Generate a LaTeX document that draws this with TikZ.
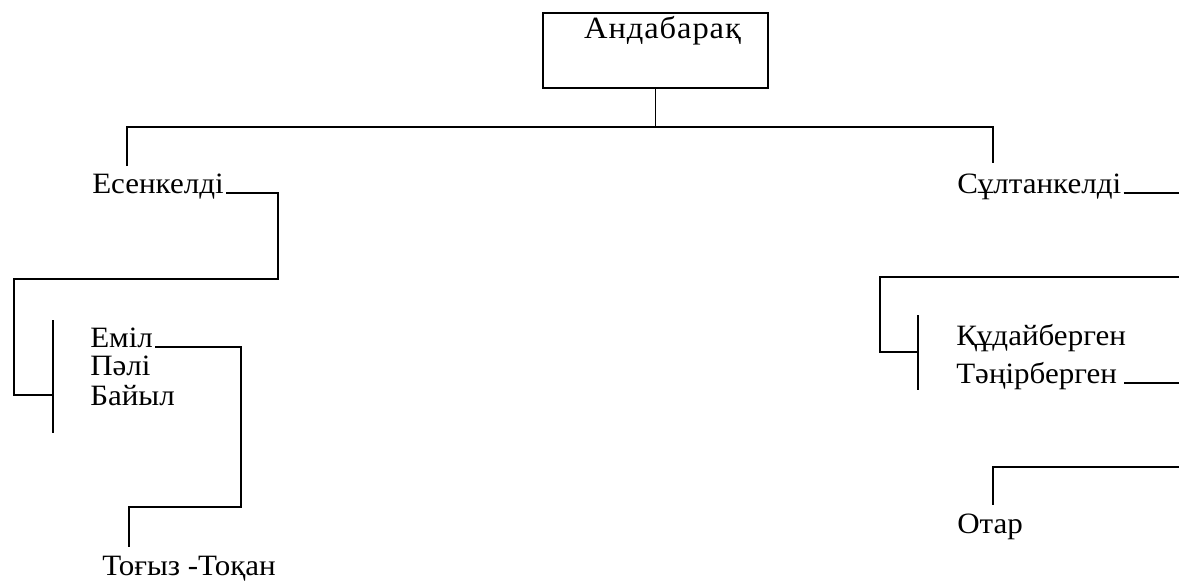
\documentclass[tikz,border=0pt]{standalone}
\usepackage{fontspec}
\setmainfont[FakeStretch=1.05]{Liberation Serif}
\usetikzlibrary{positioning,calc}

\tikzset{
  kin/.style={anchor=base west, inner sep=0pt, font=\fontsize{21}{25}\selectfont},
  rootbox/.style={draw, anchor=north west, minimum width=5.625cm, minimum height=1.875cm, inner sep=0pt, outer sep=0pt},
  tree/.style={line width=1.3pt}
}

\begin{document}
\begin{tikzpicture}[x=0.025cm, y=-0.025cm]
        \useasboundingbox (0,0) rectangle (1179,580);

        % Root
        \node[rootbox, line width=1.3pt] (root) at (543,13) {};
        \node[kin, anchor=base, font=\fontsize{22}{26}\selectfont] (roottext) at ($(root.north)+(7,25)$) {\addfontfeatures{LetterSpace=3}Андабарақ};

        % Names
        \node[kin] (esen) at (92,193) {Есенкелді};
        \node[kin] (sult) at (957,193) {Сұлтанкелді};
        \node[kin] (emil) at (90,347) {Еміл};
        \node[kin] (pali) at (90,375) {Пәлі};
        \node[kin] (bayl) at (90,405) {Байыл};
        \node[kin] (togz) at (102,575) {Тоғыз -Тоқан};
        \node[kin] (kuda) at (956,345) {Құдайберген};
        \node[kin] (tanr) at (956,383) {Тәңірберген};
        \node[kin] (otar) at (957,533) {Отар};

        % Coordinates
        \coordinate (mid) at (655.5,127);
        \coordinate (lT) at (127,166);
        \coordinate (rT) at (993,163);
        \coordinate (rEdge) at (1179,0);
        \coordinate (eA) at (278,279);
        \coordinate (eB) at (14,395);
        \coordinate (bar1T) at (53,320);
        \coordinate (bar1B) at (53,433);
        \coordinate (emA) at (241,507);
        \coordinate (togT) at (129,547);
        \coordinate (sA) at (880,277);
        \coordinate (sB) at (918,352);
        \coordinate (bar2T) at (918,315);
        \coordinate (bar2B) at (918,390);
        \coordinate (oA) at (993,467);
        \coordinate (otarT) at (993,505);

        % Top branch
        \draw[tree] (root.south) -- (root.south |- mid);
        \draw[tree] (lT) |- (mid) -| (rT);

        % Left line
        \draw[tree] ([xshift=1.5pt]esen.base east) -| (eA) -| (eB) -- (eB -| bar1T);
        \draw[tree] (bar1T) -- (bar1B);
        \draw[tree] ([xshift=1.5pt]emil.base east) -| (emA) -| (togT);

        % Right line
        \draw[tree] ([xshift=1.5pt]sult.base east) -- (sult.base -| rEdge);
        \draw[tree] (sA -| rEdge) -- (sA) |- (sB);
        \draw[tree] (bar2T) -- (bar2B);
        \draw[tree] ([xshift=5pt]tanr.base east) -- (tanr.base -| rEdge);
        \draw[tree] (oA -| rEdge) -- (oA) -- (otarT);
    \end{tikzpicture}
\end{document}
